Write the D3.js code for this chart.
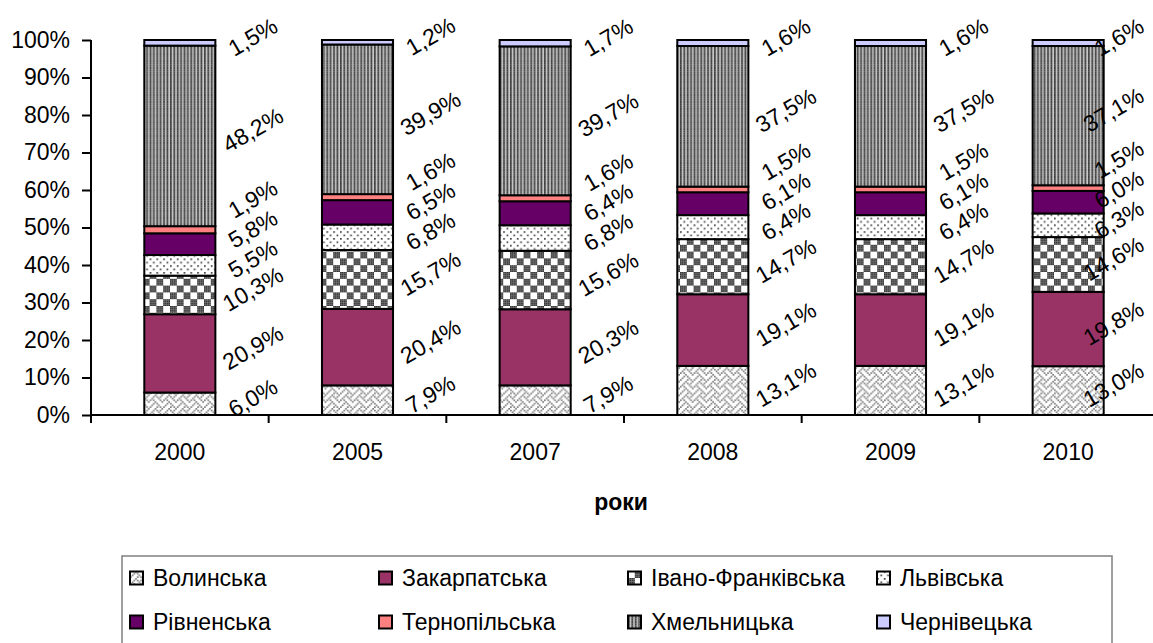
<!DOCTYPE html>
<html>
<head>
<meta charset="utf-8">
<script src="https://cdn.jsdelivr.net/npm/d3@7"></script>
<style>
  body { margin: 0; background: #fff; }
  text { font-family: "Liberation Sans", Arial, sans-serif; fill: #000; }
</style>
</head>
<body>
<div id="chart"></div>
<script>
// Data (shares, %)
var years = ["2000", "2005", "2007", "2008", "2009", "2010"];
var regions = ["Волинська", "Закарпатська", "Івано-Франківська", "Львівська",
  "Рівненська", "Тернопільська", "Хмельницька", "Чернівецька"];

var volynska      = [6.0, 7.9, 7.9, 13.1, 13.1, 13.0];
var zakarpatska   = [20.9, 20.4, 20.3, 19.1, 19.1, 19.8];
var ivanoFrank    = [10.3, 15.7, 15.6, 14.7, 14.7, 14.6];
var lvivska       = [5.5, 6.8, 6.8, 6.4, 6.4, 6.3];
var rivnenska     = [5.8, 6.5, 6.4, 6.1, 6.1, 6.0];
var ternopilska   = [1.9, 1.6, 1.6, 1.5, 1.5, 1.5];
var khmelnytska   = [48.2, 39.9, 39.7, 37.5, 37.5, 37.1];
var chernivetska  = [1.5, 1.2, 1.7, 1.6, 1.6, 1.6];

var yTicks = [0, 0.1, 0.2, 0.3, 0.4, 0.5, 0.6, 0.7, 0.8, 0.9, 1];

var series = [volynska, zakarpatska, ivanoFrank, lvivska, rivnenska, ternopilska, khmelnytska, chernivetska];

// table for d3.stack
var table = years.map(function(y, i) {
  var row = { year: y };
  regions.forEach(function(r, k) { row[r] = series[k][i]; });
  return row;
});

var svgWidth = 1153;
var svgHeight = 643;
var fontSize = 23;

var svg = d3.select("#chart")
  .append("svg")
  .attr("width", svgWidth)
  .attr("height", svgHeight);

svg.append("rect").attr("width", svgWidth).attr("height", svgHeight).attr("fill", "#fff");

// Fill patterns (8x8 bitmaps, scaled up)
var defs = svg.append("defs");
function bitmapPattern(id, rows, fg, bg) {
  var p = defs.append("pattern")
    .attr("id", id)
    .attr("patternUnits", "userSpaceOnUse")
    .attr("width", 8)
    .attr("height", 8)
    .attr("patternTransform", "scale(1.7)");
  p.append("rect").attr("width", 8).attr("height", 8).attr("fill", bg);
  rows.forEach(function(bits, y) {
    for (var x = 0; x < 8; x++) {
      if (bits & (0x80 >> x)) {
        p.append("rect").attr("x", x).attr("y", y).attr("width", 1).attr("height", 1).attr("fill", fg);
      }
    }
  });
}
bitmapPattern("weave", [0x11, 0x2a, 0x44, 0xa2, 0x11, 0x28, 0x44, 0x8a], "#808080", "#fff");
bitmapPattern("checker", [0xf0, 0xf0, 0xf0, 0xf0, 0x0f, 0x0f, 0x0f, 0x0f], "#333", "#fff");
bitmapPattern("dots", [0x88, 0x00, 0x22, 0x00, 0x88, 0x00, 0x22, 0x00], "#444", "#fff");
bitmapPattern("vstripes", [0xaa, 0xaa, 0xaa, 0xaa, 0xaa, 0xaa, 0xaa, 0xaa], "#3a3a3a", "#c8c8c8");

var fills = ["url(#weave)", "#993366", "url(#checker)", "url(#dots)",
  "#660066", "#ff8080", "url(#vstripes)", "#ccccff"];

// Scales
var xScale = d3.scaleBand()
  .domain(years)
  .range([91, 1157])
  .padding(0);

var yScale = d3.scaleLinear()
  .domain([0, 1])
  .range([415, 40]);

var barWidth = xScale.bandwidth() * 0.4;

var stack = d3.stack()
  .keys(regions)
  .offset(d3.stackOffsetExpand);
var stacked = stack(table);

// Bars
var layers = svg.append("g").selectAll("g")
  .data(stacked)
  .enter()
  .append("g")
  .attr("fill", (d, i) => fills[i]);

layers.selectAll("rect")
  .data(d => d)
  .enter()
  .append("rect")
  .attr("x", d => xScale(d.data.year) + xScale.bandwidth() / 2 - barWidth / 2)
  .attr("y", d => yScale(d[1]))
  .attr("width", barWidth)
  .attr("height", d => yScale(d[0]) - yScale(d[1]))
  .attr("stroke", "#000")
  .attr("stroke-width", 2);

// Axes
var leftAxis = d3.axisLeft(yScale)
  .tickValues(yTicks)
  .tickFormat(d3.format(".0%"))
  .tickSize(9)
  .tickPadding(12);

var yAxis = svg.append("g")
  .attr("transform", "translate(91,0)")
  .call(leftAxis);
yAxis.select(".domain").attr("stroke", "#000").attr("stroke-width", 2).attr("d", "M0,40V423");
yAxis.selectAll(".tick line").attr("stroke-width", 2);
yAxis.selectAll("text").style("font-size", fontSize + "px").attr("font-family", null);

svg.append("line")
  .attr("x1", 91).attr("x2", svgWidth)
  .attr("y1", yScale(0)).attr("y2", yScale(0))
  .attr("stroke", "#000").attr("stroke-width", 2);

// tick marks between categories
svg.append("g").selectAll("line")
  .data(years.slice(1))
  .enter()
  .append("line")
  .attr("x1", d => xScale(d)).attr("x2", d => xScale(d))
  .attr("y1", 415).attr("y2", 423)
  .attr("stroke", "#000").attr("stroke-width", 2);

svg.append("g").selectAll("text")
  .data(years)
  .enter()
  .append("text")
  .attr("x", d => xScale(d) + xScale.bandwidth() / 2)
  .attr("y", 460)
  .attr("text-anchor", "middle")
  .style("font-size", fontSize + "px")
  .text(d => d);

svg.append("text")
  .attr("x", 621)
  .attr("y", 510)
  .attr("text-anchor", "middle")
  .style("font-size", fontSize + "px")
  .style("font-weight", "bold")
  .text("роки");

// Data labels: rotated, to the right of each bar, pushed apart upward
var labelGroup = svg.append("g");
var fmt = v => v.toFixed(1).replace(".", ",") + "%";
var minGap = 30;
var rightLimit = 1146;
var ang = 30 * Math.PI / 180;

years.forEach(function(year, i) {
  var cx = xScale(year) + xScale.bandwidth() / 2 + 73;
  var prev = Infinity;
  stacked.forEach(function(layer, k) {
    var seg = layer[i];
    var yc = (yScale(seg[0]) + yScale(seg[1])) / 2 - 6;
    if (yc > prev - minGap) yc = prev - minGap;
    prev = yc;

    var t = labelGroup.append("text")
      .attr("text-anchor", "middle")
      .attr("dy", "0.35em")
      .style("font-size", fontSize + "px")
      .text(fmt(series[k][i]));
    var len = t.node().getComputedTextLength();
    var halfW = (len * Math.cos(ang) + fontSize * 0.75 * Math.sin(ang)) / 2;
    var x = Math.min(cx, rightLimit - halfW);
    t.attr("transform", `translate(${x},${yc}) rotate(-30)`);
  });
});

// Legend
var legend = svg.append("g");
legend.append("rect")
  .attr("x", 122).attr("y", 556)
  .attr("width", 990).attr("height", 100)
  .attr("fill", "#fff")
  .attr("stroke", "#808080")
  .attr("stroke-width", 1.5);

var legendCol = d3.scalePoint().domain([0, 1, 2, 3]).range([130, 877]);
var legendRow = d3.scalePoint().domain([0, 1]).range([578, 622]);

var items = legend.selectAll("g.item")
  .data(regions)
  .enter()
  .append("g")
  .attr("class", "item")
  .attr("transform", (d, i) => `translate(${legendCol(i % 4)},${legendRow(Math.floor(i / 4))})`);

items.append("rect")
  .attr("x", 0).attr("y", -6.5)
  .attr("width", 13).attr("height", 13)
  .attr("fill", (d, i) => fills[i])
  .attr("stroke", "#000")
  .attr("stroke-width", 2);

items.append("text")
  .attr("x", 23)
  .attr("dy", "0.35em")
  .style("font-size", fontSize + "px")
  .text(d => d);
</script>
</body>
</html>
